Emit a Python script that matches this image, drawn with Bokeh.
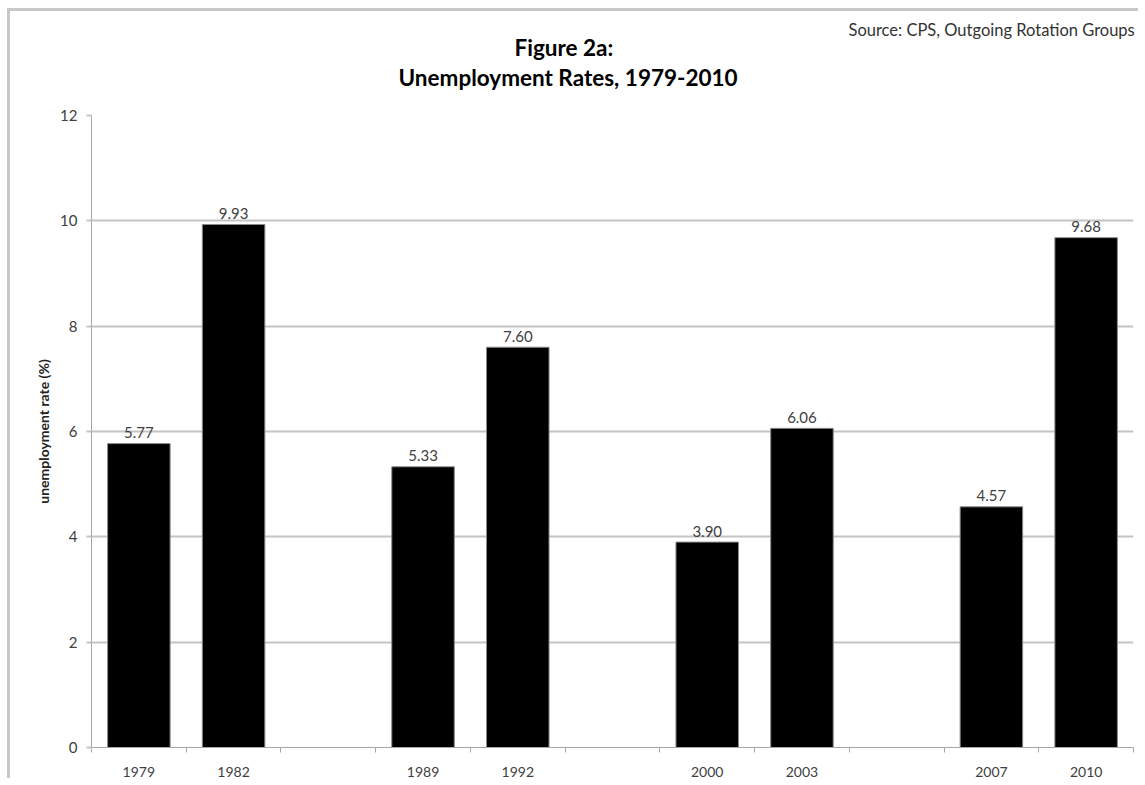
from bokeh.plotting import figure
from bokeh.models import FixedTicker, ColumnDataSource, Range1d, Title
from bokeh.core.properties import value
from bokeh.embed import file_html
from bokeh.resources import INLINE

# ---- data ----
groups = [["1979", "1982"], ["1989", "1992"], ["2000", "2003"], ["2007", "2010"]]
years = ["1979", "1982", "1989", "1992", "2000", "2003", "2007", "2010"]
rates = [5.77, 9.93, 5.33, 7.60, 3.90, 6.06, 4.57, 9.68]
y_ticks = [0, 2, 4, 6, 8, 10, 12]

title_1 = "Figure 2a:"
title_2 = "Unemployment Rates, 1979-2010"
source_note = "Source: CPS, Outgoing Rotation Groups"
y_label = "unemployment rate (%)"

# slot layout: each group of two bars followed by one empty slot
xpos = []
slot = 0
for gi, g in enumerate(groups):
    for _ in g:
        xpos.append(slot + 0.5)
        slot += 1
    if gi < len(groups) - 1:
        slot += 1
n_slots = slot

FONT = "Lato"

src = ColumnDataSource(dict(
    x=xpos, top=rates, year=years,
    lab=[f"{v:.2f}" for v in rates],
))

p = figure(width=1131, height=770, output_backend="svg", toolbar_location=None,
           x_range=Range1d(0, n_slots), y_range=Range1d(0, 12),
           min_border_left=81, min_border_right=8, min_border_top=104,
           min_border_bottom=34, title=None)
p.styles = {"margin-left": "7px", "margin-top": "8px",
            "border-left": "3px solid #c8c8c8", "border-top": "3px solid #c8c8c8"}
p.outline_line_color = None
p.background_fill_color = "white"
p.border_fill_color = "white"

p.vbar(x="x", top="top", width=0.66, bottom=0, source=src,
       fill_color="black", line_color="#8a8a8a", line_width=1)

p.text(x="x", y="top", text="lab", source=src, text_align="center",
       text_baseline="alphabetic", y_offset=-11,
       text_font=value(FONT), text_font_size="15px", text_color="#404040")

# axes
p.xgrid.visible = False
p.ygrid.grid_line_color = "#c4c4c4"
p.ygrid.grid_line_width = 2
p.ygrid.ticker = FixedTicker(ticks=y_ticks)

ya = p.yaxis[0]
ya.ticker = FixedTicker(ticks=y_ticks)
ya.axis_line_color = "#a6a6a6"
ya.major_tick_line_color = "#c4c4c4"
ya.major_tick_line_width = 2
ya.major_tick_out = 5
ya.major_tick_in = 0
ya.minor_tick_line_color = None
ya.major_label_standoff = 9
ya.major_label_text_font = FONT
ya.major_label_text_font_size = "15px"
ya.major_label_text_color = "#404040"
ya.axis_label = y_label
ya.axis_label_standoff = 5
ya.axis_label_text_font = FONT
ya.axis_label_text_font_size = "14px"
ya.axis_label_text_font_style = "bold"
ya.axis_label_text_color = "#222222"

xa = p.xaxis[0]
xa.ticker = FixedTicker(ticks=xpos, minor_ticks=list(range(n_slots + 1)))
xa.major_label_overrides = {x: y for x, y in zip(xpos, years)}
xa.axis_line_color = "#a6a6a6"
xa.major_tick_out = 0
xa.major_tick_in = 0
xa.major_tick_line_color = None
xa.minor_tick_out = 5
xa.minor_tick_in = 0
xa.minor_tick_line_color = "#a6a6a6"
xa.major_label_standoff = 14
xa.major_label_text_font = FONT
xa.major_label_text_font_size = "14px"
xa.major_label_text_color = "#404040"

# heading panels (first added sits nearest the frame); offsets from frame's left edge
p.add_layout(Title(text=" ", standoff=22, text_font=FONT, text_font_size="1px"), "above")
p.add_layout(Title(text=title_2, align="left", offset=307, standoff=0,
                   text_font=FONT, text_font_size="22.5px", text_font_style="bold",
                   text_color="black"), "above")
p.add_layout(Title(text=title_1, align="left", offset=423, standoff=2,
                   text_font=FONT, text_font_size="22.5px", text_font_style="bold",
                   text_color="black"), "above")
p.add_layout(Title(text=source_note, align="left", offset=757, standoff=-19,
                   text_font=FONT, text_font_size="16.5px", text_font_style="normal",
                   text_color="#333333"), "above")

open("out.html", "w").write(file_html(p, INLINE))
